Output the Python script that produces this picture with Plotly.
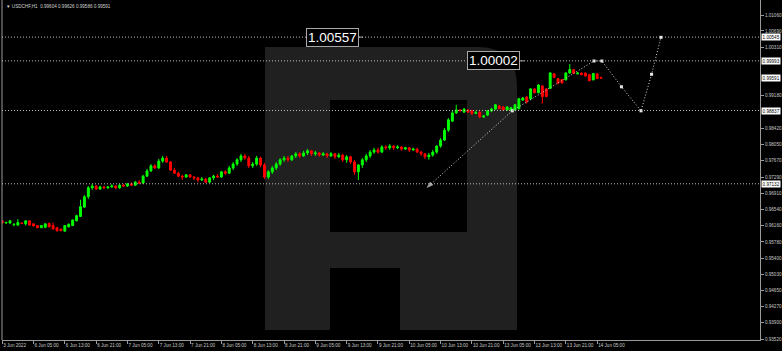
import plotly.graph_objects as go

# ---------------- data ----------------
opens = [0.9627,0.9622,0.9622,0.9618,0.9617,0.9622,0.9620,0.9627,0.9620,0.9616,
         0.9611,0.9612,0.9621,0.9616,0.9611,0.9608,0.9603,0.9613,0.9616,0.9627,
         0.9637,0.9659,0.9683,0.9704,0.9708,0.9701,0.9706,0.9704,0.9706,0.9708,
         0.9704,0.9710,0.9708,0.9713,0.9710,0.9717,0.9715,0.9731,0.9743,0.9755,
         0.9750,0.9766,0.9773,0.9764,0.9745,0.9738,0.9731,0.9729,0.9734,0.9729,
         0.9727,0.9722,0.9724,0.9717,0.9727,0.9731,0.9729,0.9741,0.9738,0.9750,
         0.9759,0.9769,0.9778,0.9773,0.9755,0.9759,0.9773,0.9757,0.9729,0.9741,
         0.9750,0.9759,0.9769,0.9773,0.9769,0.9778,0.9783,0.9778,0.9785,0.9790,
         0.9783,0.9785,0.9780,0.9783,0.9778,0.9783,0.9776,0.9780,0.9769,0.9776,
         0.9764,0.9741,0.9757,0.9769,0.9778,0.9787,0.9792,0.9787,0.9799,0.9797,
         0.9801,0.9797,0.9799,0.9794,0.9797,0.9792,0.9794,0.9787,0.9783,0.9776,
         0.9780,0.9787,0.9801,0.9815,0.9838,0.9859,0.9878,0.9885,0.9880,0.9885,
         0.9883,0.9877,0.9880,0.9869,0.9873,0.9883,0.9887,0.9894,0.9892,0.9885,
         0.9885,0.9885,0.9888,0.9908,0.9915,0.9911,0.9934,0.9925,0.9941,0.9934,
         0.9935,0.9969,0.9958,0.9956,0.9955,0.9971,0.9979,0.9969,0.9971,0.9971,
         0.9967,0.9955,0.9969,0.9960]
highs = [0.9629,0.9625,0.9629,0.9621,0.9631,0.9623,0.9628,0.9628,0.9621,0.9617,
         0.9617,0.9621,0.9623,0.9623,0.9613,0.9609,0.9617,0.9621,0.9630,0.9641,
         0.9676,0.9687,0.9708,0.9713,0.9710,0.9709,0.9708,0.9708,0.9712,0.9710,
         0.9713,0.9713,0.9715,0.9717,0.9720,0.9722,0.9734,0.9748,0.9759,0.9759,
         0.9771,0.9778,0.9778,0.9766,0.9750,0.9741,0.9734,0.9736,0.9736,0.9731,
         0.9729,0.9729,0.9727,0.9729,0.9734,0.9736,0.9743,0.9745,0.9755,0.9764,
         0.9773,0.9783,0.9783,0.9778,0.9764,0.9778,0.9776,0.9762,0.9745,0.9755,
         0.9764,0.9773,0.9778,0.9778,0.9780,0.9787,0.9787,0.9790,0.9794,0.9792,
         0.9790,0.9787,0.9787,0.9785,0.9787,0.9785,0.9785,0.9783,0.9780,0.9778,
         0.9769,0.9759,0.9773,0.9783,0.9792,0.9797,0.9797,0.9803,0.9803,0.9806,
         0.9803,0.9803,0.9801,0.9799,0.9799,0.9797,0.9797,0.9790,0.9785,0.9785,
         0.9792,0.9803,0.9820,0.9843,0.9866,0.9883,0.9897,0.9887,0.9890,0.9887,
         0.9885,0.9883,0.9883,0.9873,0.9885,0.9890,0.9899,0.9897,0.9894,0.9894,
         0.9892,0.9899,0.9913,0.9915,0.9918,0.9936,0.9935,0.9945,0.9942,0.9936,
         0.9973,0.9971,0.9959,0.9957,0.9973,0.9992,0.9980,0.9973,0.9972,0.9972,
         0.9968,0.9971,0.9970,0.9963]
lows = [0.9620,0.9620,0.9620,0.9614,0.9616,0.9619,0.9616,0.9616,0.9614,0.9610,
        0.9610,0.9610,0.9612,0.9607,0.9602,0.9603,0.9602,0.9612,0.9615,0.9626,
        0.9636,0.9657,0.9678,0.9699,0.9699,0.9699,0.9701,0.9701,0.9704,0.9701,
        0.9701,0.9706,0.9706,0.9708,0.9708,0.9713,0.9713,0.9729,0.9741,0.9748,
        0.9748,0.9762,0.9762,0.9743,0.9736,0.9729,0.9722,0.9727,0.9727,0.9722,
        0.9717,0.9720,0.9715,0.9715,0.9722,0.9727,0.9727,0.9734,0.9736,0.9745,
        0.9755,0.9764,0.9769,0.9750,0.9750,0.9755,0.9752,0.9724,0.9724,0.9736,
        0.9745,0.9755,0.9764,0.9764,0.9766,0.9773,0.9773,0.9776,0.9780,0.9778,
        0.9778,0.9776,0.9778,0.9773,0.9776,0.9771,0.9773,0.9764,0.9762,0.9759,
        0.9734,0.9722,0.9750,0.9764,0.9773,0.9783,0.9783,0.9785,0.9792,0.9792,
        0.9792,0.9794,0.9790,0.9792,0.9787,0.9790,0.9785,0.9778,0.9771,0.9769,
        0.9776,0.9783,0.9797,0.9813,0.9834,0.9857,0.9876,0.9880,0.9878,0.9878,
        0.9873,0.9876,0.9866,0.9866,0.9871,0.9880,0.9885,0.9887,0.9883,0.9883,
        0.9883,0.9883,0.9886,0.9906,0.9900,0.9908,0.9924,0.9924,0.9900,0.9915,
        0.9934,0.9959,0.9945,0.9946,0.9954,0.9970,0.9969,0.9968,0.9966,0.9963,
        0.9952,0.9954,0.9957,0.9959]
closes = [0.9622,0.9623,0.9627,0.9619,0.9623,0.9621,0.9627,0.9617,0.9615,0.9611,
          0.9616,0.9620,0.9613,0.9608,0.9604,0.9604,0.9616,0.9619,0.9629,0.9639,
          0.9660,0.9683,0.9704,0.9708,0.9701,0.9706,0.9704,0.9706,0.9708,0.9704,
          0.9710,0.9708,0.9713,0.9710,0.9717,0.9715,0.9731,0.9743,0.9755,0.9750,
          0.9766,0.9773,0.9764,0.9745,0.9738,0.9731,0.9729,0.9734,0.9729,0.9727,
          0.9722,0.9724,0.9717,0.9727,0.9731,0.9729,0.9741,0.9738,0.9750,0.9759,
          0.9769,0.9778,0.9773,0.9755,0.9759,0.9773,0.9757,0.9729,0.9741,0.9750,
          0.9759,0.9769,0.9773,0.9769,0.9778,0.9783,0.9778,0.9785,0.9790,0.9783,
          0.9785,0.9780,0.9783,0.9778,0.9783,0.9776,0.9780,0.9769,0.9776,0.9764,
          0.9741,0.9757,0.9769,0.9778,0.9787,0.9792,0.9787,0.9799,0.9797,0.9801,
          0.9797,0.9799,0.9794,0.9797,0.9792,0.9794,0.9787,0.9783,0.9776,0.9780,
          0.9787,0.9801,0.9815,0.9838,0.9862,0.9878,0.9885,0.9884,0.9887,0.9880,
          0.9877,0.9879,0.9869,0.9871,0.9883,0.9887,0.9897,0.9888,0.9885,0.9892,
          0.9890,0.9897,0.9911,0.9913,0.9904,0.9934,0.9925,0.9943,0.9916,0.9916,
          0.9971,0.9961,0.9947,0.9948,0.9971,0.9979,0.9970,0.9971,0.9967,0.9964,
          0.9953,0.9970,0.9958,0.9959]
bars = list(range(len(closes)))

tick_bars = [0, 8, 16, 24, 32, 40, 48, 56, 64, 72, 80, 88, 96, 104, 112, 120, 128, 136, 144, 152]
tick_text = ["3 Jun 2022", "6 Jun 05:00", "6 Jun 13:00", "6 Jun 21:00", "7 Jun 05:00",
             "7 Jun 13:00", "7 Jun 21:00", "8 Jun 05:00", "8 Jun 13:00", "8 Jun 21:00",
             "9 Jun 05:00", "9 Jun 13:00", "9 Jun 21:00", "10 Jun 05:00", "10 Jun 13:00",
             "10 Jun 21:00", "13 Jun 05:00", "13 Jun 13:00", "13 Jun 21:00", "14 Jun 05:00"]
# scale labels that stay visible (the ones under price boxes are hidden, as in the reference)
price_ticks = [1.01060, 1.00690, 1.00310, 0.99180, 0.98420,
               0.98050, 0.97670, 0.97290, 0.96910, 0.96540, 0.96160, 0.95780, 0.95400,
               0.95030, 0.94650, 0.94270, 0.93900, 0.93520]

levels = [1.00545, 0.99993, 0.98837, 0.97132]
current_price = 0.99591

# forecast path (bar position, price)
arrow_x = [130.3, 108.6]
arrow_y = [0.9883, 0.9705]
fc_x = [130.3, 151.2, 153.2, 158.2, 163.2, 165.9, 168.3]
fc_y = [0.9883, 0.9999, 0.9999, 0.9939, 0.9883, 0.9968, 1.0054]

targets = [("1.00557", 84.4, 1.00545), ("1.00002", 125.6, 0.99993)]

title_text = "USDCHF,H1  0.99604 0.99626 0.99586 0.99591"

# ---------------- figure ----------------
W, H = 782, 351
ML, MR, MT, MB = 2, 22, 0, 11
PW, PH = W - ML - MR, H - MT - MB

def P(xp, yp):
    return (xp - ML) / PW, 1 - (yp - MT) / PH

fig = go.Figure()

def path(pts):
    s = ""
    for cmd, *xy in pts:
        coords = []
        for k in range(0, len(xy), 2):
            px, py = P(xy[k], xy[k + 1])
            coords.append(f"{px:.5f},{py:.5f}")
        s += cmd + " " + " ".join(coords) + " "
    return s + "Z"

shapes = []
# watermark logo
shapes.append(dict(type="path", xref="paper", yref="paper", layer="below",
                   path=path([("M", 265, 330), ("L", 265, 47), ("L", 477, 47),
                              ("Q", 517, 47, 517, 87), ("L", 517, 330)]),
                   fillcolor="#202020", line=dict(width=0)))
for (x0, y0, x1, y1) in [(330, 100, 467, 232), (330, 268, 400, 330)]:
    a0, b0 = P(x0, y0)
    a1, b1 = P(x1, y1)
    shapes.append(dict(type="rect", xref="paper", yref="paper", layer="below",
                       x0=a0, x1=a1, y0=b1, y1=b0, fillcolor="#000000", line=dict(width=0)))

# left border line
shapes.append(dict(type="line", xref="paper", yref="paper", x0=0, x1=0, y0=0, y1=1,
                   line=dict(color="#9a9a9a", width=1)))

# level lines
for lv in levels:
    shapes.append(dict(type="line", xref="paper", yref="y", x0=0, x1=1, y0=lv, y1=lv,
                       line=dict(color="#bdbdbd", width=1, dash="1px,2px")))

fig.add_trace(go.Candlestick(
    x=bars, open=opens, high=highs, low=lows, close=closes,
    increasing=dict(line=dict(color="#00ff00", width=1), fillcolor="#00ff00"),
    decreasing=dict(line=dict(color="#ff0000", width=1), fillcolor="#ff0000"),
    whiskerwidth=0, showlegend=False, hoverinfo="skip"))

fig.add_trace(go.Scatter(x=fc_x, y=fc_y, mode="lines+markers",
                         line=dict(color="#d8d8d8", width=1, dash="1px,2px"),
                         marker=dict(symbol="square", size=3, color="#e8e8e8"),
                         showlegend=False, hoverinfo="skip"))
fig.add_trace(go.Scatter(x=arrow_x, y=arrow_y, mode="lines+markers",
                         line=dict(color="#d8d8d8", width=1, dash="1px,2px"),
                         marker=dict(symbol=["square", "arrow"], size=[3, 6], color="#e8e8e8",
                                     angleref="previous"),
                         showlegend=False, hoverinfo="skip"))

ann = []
ann.append(dict(xref="paper", yref="paper", x=0.002, y=1, xanchor="left", yanchor="top",
                yshift=-2, text="▼ " + title_text, showarrow=False,
                font=dict(family="Liberation Sans", size=4.6, color="#d0d0d0")))

for txt, bx, by in targets:
    ann.append(dict(xref="x", yref="y", x=bx, y=by, text=txt, showarrow=False,
                    xanchor="center", yanchor="middle",
                    font=dict(family="Liberation Sans", size=13.5, color="#ffffff"),
                    bgcolor="#000000", bordercolor="#a8a8a8", borderwidth=1, borderpad=1))
    shapes.append(dict(type="line", xref="x", yref="y", x0=bx + 6.4, x1=bx + 7.8,
                       y0=by, y1=by, line=dict(color="#a8a8a8", width=1)))

for lv in levels + [current_price]:
    ann.append(dict(xref="paper", yref="y", x=1, y=lv, xanchor="left", yanchor="middle",
                    xshift=1, text=f"{lv:.5f}", showarrow=False,
                    font=dict(family="Liberation Sans", size=4.6, color="#000000"),
                    bgcolor="#ffffff", borderpad=0.6))

fig.update_layout(
    width=W, height=H, margin=dict(l=ML, r=MR, t=MT, b=MB),
    paper_bgcolor="#000000", plot_bgcolor="#000000",
    shapes=shapes, annotations=ann, showlegend=False,
    xaxis=dict(range=[-0.05, 193.6], rangeslider=dict(visible=False),
               showgrid=False, zeroline=False, showline=True, linecolor="#9a9a9a",
               linewidth=1, ticks="outside", ticklen=3, tickcolor="#9a9a9a",
               tickvals=tick_bars, ticktext=tick_text, ticklabelposition="outside right",
               tickangle=0, automargin=False,
               tickfont=dict(family="Liberation Sans", size=4.6, color="#c8c8c8")),
    yaxis=dict(range=[0.93497, 1.01409], side="right", showgrid=False, zeroline=False,
               showline=True, linecolor="#9a9a9a", linewidth=1, ticks="outside",
               ticklen=3, tickcolor="#9a9a9a", tickvals=price_ticks, automargin=False,
               ticktext=[f"{v:.5f}" for v in price_ticks],
               tickfont=dict(family="Liberation Sans", size=4.6, color="#c8c8c8")),
)

fig.write_html("out.html")
